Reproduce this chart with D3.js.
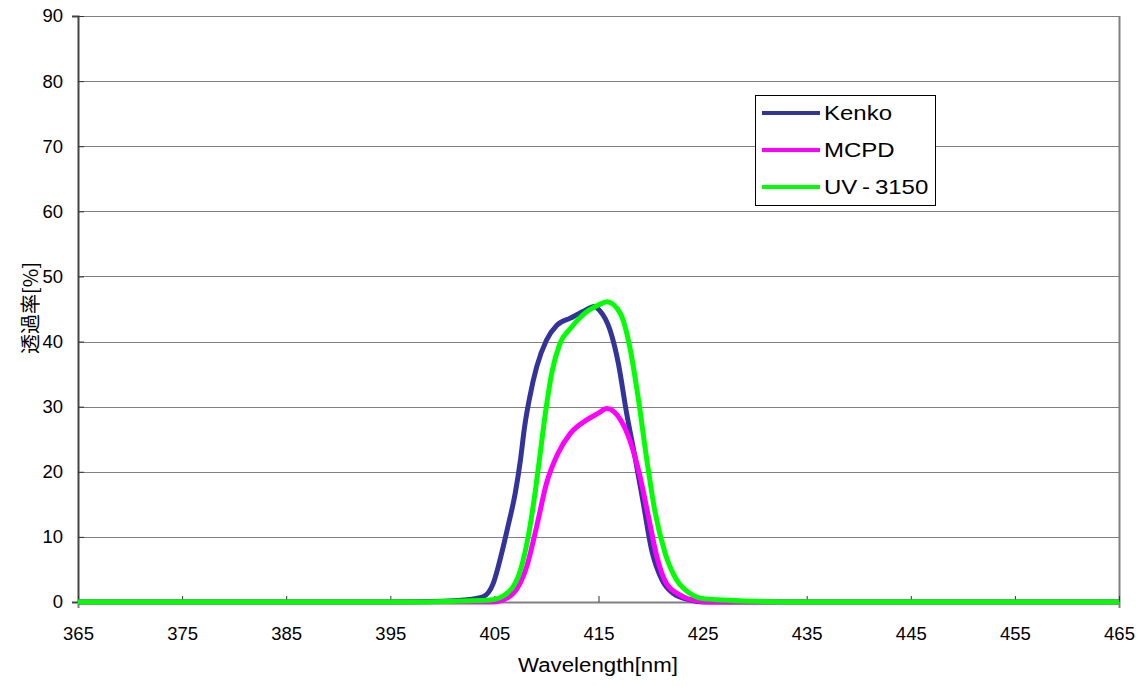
<!DOCTYPE html>
<html lang="ja">
<head>
<meta charset="utf-8">
<title>透過率</title>
<script src="https://cdnjs.cloudflare.com/ajax/libs/d3/7.8.5/d3.min.js"></script>
<style>
  body { margin: 0; background: #fff; }
  svg { display: block; font-family: "Liberation Sans", Arial, sans-serif; }
</style>
</head>
<body>
<div id="chart"></div>
<script>
// wavelength [nm] / transmittance [%]
const kenkoX = [365, 395, 400, 402, 403.9, 404.9, 405.7, 406.3, 407.0, 407.5, 407.9, 408.4, 409.06, 410.0, 411.0, 412.3, 413.5, 414.6, 415.1, 416.1, 416.9, 417.7, 418.5, 419.3, 420.1, 421.1, 422.2, 423.8, 425, 465];
const kenkoY = [0, 0, 0.1, 0.3, 0.8, 2.9, 7.5, 11.6, 16.7, 21.8, 26.9, 31.5, 36.1, 40.2, 42.5, 43.6, 44.6, 45.4, 44.8, 41.8, 36.7, 29, 22.3, 15.2, 8.0, 3.4, 1.3, 0.3, 0, 0];

const mcpdX = [365, 404.5, 405.2, 406.8, 408.1, 409.06, 410.0, 411.1, 412.3, 413.9, 415.0, 415.8, 417.1, 418.0, 419.0, 419.8, 420.6, 421.5, 422.8, 424.4, 426, 465];
const mcpdY = [0, 0, 0.05, 1.3, 5.4, 11.6, 18.2, 22.8, 25.9, 28, 29.0, 29.7, 28, 24.9, 19.2, 13.1, 7.0, 2.9, 1.1, 0.2, 0, 0];

const uvX = [365, 398, 402, 404.6, 406.2, 407.5, 408.3, 408.9, 409.4, 409.9, 410.5, 411.3, 412.3, 413.5, 415.0, 415.8, 417.1, 418.0, 418.8, 419.6, 420.4, 421.4, 422.5, 423.8, 424.75, 427, 430, 433, 465];
const uvY = [0, 0, 0.15, 0.3, 1.3, 4.9, 10.5, 16.7, 22.8, 29, 35.1, 39.7, 42, 44.1, 45.6, 46.1, 44.3, 39.2, 31.5, 22.3, 14.1, 7.5, 3.4, 1.3, 0.6, 0.3, 0.1, 0, 0];

const seriesNames = ["Kenko", "MCPD", "UV\u2009-\u20093150"];
const seriesColors = ["#333399", "#ff00ff", "#00ff00"];
const xTicks = [365, 375, 385, 395, 405, 415, 425, 435, 445, 455, 465];
const yTicks = [0, 10, 20, 30, 40, 50, 60, 70, 80, 90];

const W = 1144, H = 686;
const m = { left: 78, right: 1119, top: 16, bottom: 602 };

const svg = d3.select("#chart").append("svg").attr("width", W).attr("height", H);

const x = d3.scaleLinear().domain([365, 465]).range([m.left, m.right]);
const y = d3.scaleLinear().domain([0, 90]).range([m.bottom, m.top]);

// grid
svg.append("g")
  .selectAll("line")
  .data(yTicks.filter(d => d > 0))
  .enter().append("line")
  .attr("x1", m.left).attr("x2", m.right)
  .attr("y1", d => Math.round(y(d)) + 0.5).attr("y2", d => Math.round(y(d)) + 0.5)
  .attr("stroke", "#808080").attr("stroke-width", 1);

// right border
svg.append("line")
  .attr("x1", m.right + 0.5).attr("x2", m.right + 0.5)
  .attr("y1", m.top).attr("y2", m.bottom)
  .attr("stroke", "#808080").attr("stroke-width", 2);

// y axis
const yAxis = d3.axisLeft(y).tickValues(yTicks).tickSize(6).tickPadding(10);
const gy = svg.append("g").attr("transform", "translate(" + m.left + ",0)").call(yAxis);
gy.select(".domain").attr("stroke", "#444").attr("stroke-width", 2);
gy.selectAll(".tick line").attr("stroke", "#333").attr("transform", "translate(6,0)");
gy.selectAll(".tick text").attr("font-size", 18.5).attr("fill", "#000")
  .attr("font-family", "Liberation Sans, Arial, sans-serif").attr("x", -15);

// x axis
const xAxis = d3.axisBottom(x).tickValues(xTicks).tickSize(6).tickPadding(19);
const gx = svg.append("g").attr("transform", "translate(0," + m.bottom + ")").call(xAxis);
gx.select(".domain").attr("stroke", "#808080").attr("stroke-width", 2);
gx.selectAll(".tick line").attr("stroke", "#333").attr("transform", "translate(0,-6)");
gx.selectAll(".tick text").attr("font-size", 18.5).attr("fill", "#000")
  .attr("font-family", "Liberation Sans, Arial, sans-serif");

// lines
const series = [
  { xs: kenkoX, ys: kenkoY },
  { xs: mcpdX, ys: mcpdY },
  { xs: uvX, ys: uvY }
];
const line = d3.line()
  .x(d => x(d[0]))
  .y(d => y(d[1]))
  .curve(d3.curveMonotoneX);

series.forEach((s, i) => {
  const pts = s.xs.map((v, j) => [v, s.ys[j]]);
  svg.append("path")
    .datum(pts)
    .attr("d", line)
    .attr("fill", "none")
    .attr("stroke", seriesColors[i])
    .attr("stroke-width", 5)
    .attr("stroke-linejoin", "round");
});

// axis titles
svg.append("text")
  .attr("x", 598).attr("y", 672)
  .attr("text-anchor", "middle")
  .attr("font-size", 21)
  .attr("transform", "translate(598,0) scale(1.06,1) translate(-598,0)")
  .text("Wavelength[nm]");

svg.append("text")
  .attr("transform", "translate(38,308) rotate(-90)")
  .attr("text-anchor", "middle")
  .attr("font-size", 20)
  .attr("font-family", "'Noto Sans CJK JP', sans-serif")
  .text("透過率[%]");

// legend
const lg = svg.append("g").attr("transform", "translate(755,95)");
lg.append("rect")
  .attr("x", 0.5).attr("y", 0.5).attr("width", 180).attr("height", 110)
  .attr("fill", "#fff").attr("stroke", "#000").attr("stroke-width", 1);
seriesNames.forEach((name, i) => {
  const cy = 18 + i * 37;
  lg.append("line")
    .attr("x1", 7).attr("x2", 65).attr("y1", cy).attr("y2", cy)
    .attr("stroke", seriesColors[i]).attr("stroke-width", 4);
  lg.append("text")
    .attr("font-size", 20)
    .attr("transform", "translate(69," + (cy + 7) + ") scale(1.2,1)")
    .text(name);
});
</script>
</body>
</html>
